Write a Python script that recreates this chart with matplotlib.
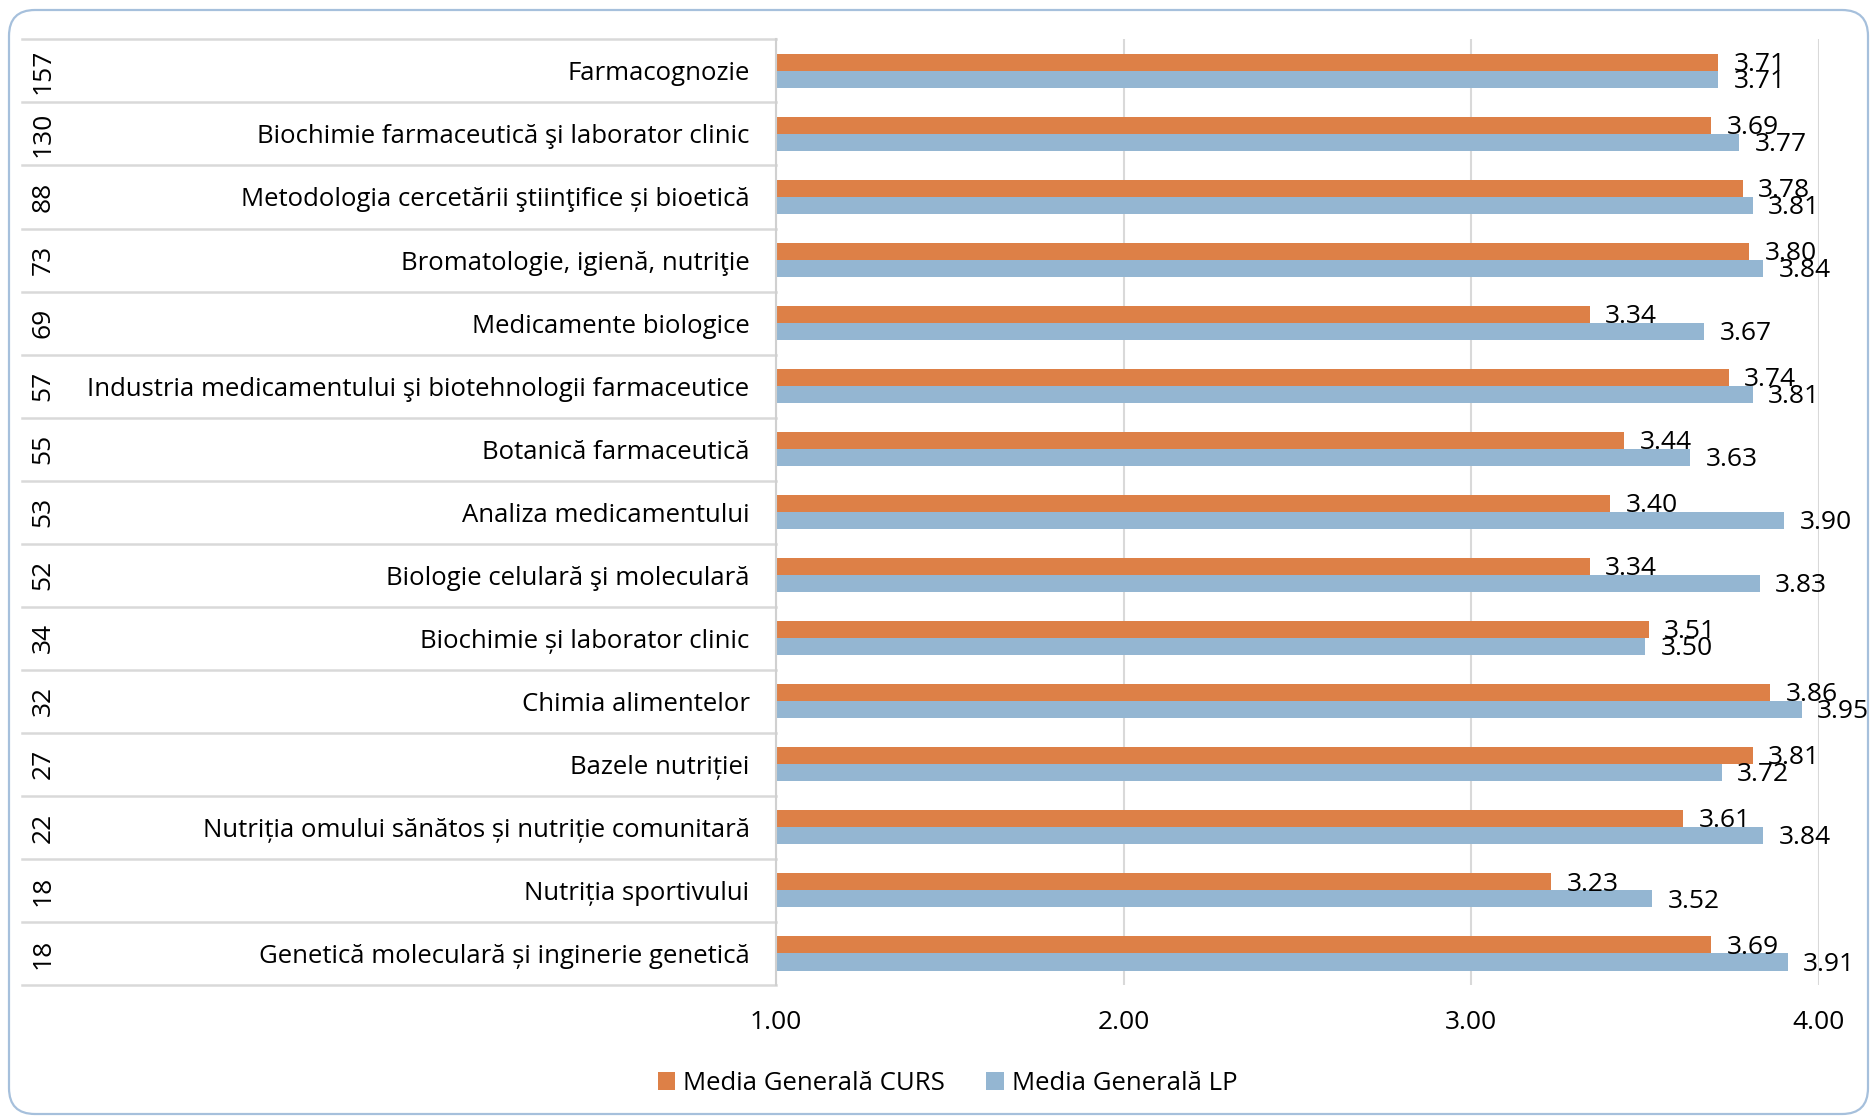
import matplotlib
matplotlib.use('Agg')
import matplotlib.pyplot as plt
from matplotlib import font_manager
from matplotlib.patches import FancyBboxPatch
import matplotlib.transforms as mtransforms
import numpy as np

counts = [157, 130, 88, 73, 69, 57, 55, 53, 52, 34, 32, 27, 22, 18, 18]
categories = [
    "Farmacognozie",
    "Biochimie farmaceutică şi laborator clinic",
    "Metodologia cercetării ştiinţifice și bioetică",
    "Bromatologie, igienă, nutriţie",
    "Medicamente biologice",
    "Industria medicamentului şi biotehnologii farmaceutice",
    "Botanică farmaceutică",
    "Analiza medicamentului",
    "Biologie celulară şi moleculară",
    "Biochimie și laborator clinic",
    "Chimia alimentelor",
    "Bazele nutriției",
    "Nutriția omului sănătos și nutriție comunitară",
    "Nutriția sportivului",
    "Genetică moleculară și inginerie genetică",
]
curs = [3.71, 3.69, 3.78, 3.80, 3.34, 3.74, 3.44, 3.40, 3.34, 3.51, 3.86, 3.81, 3.61, 3.23, 3.69]
lp = [3.71, 3.77, 3.81, 3.84, 3.67, 3.81, 3.63, 3.90, 3.83, 3.50, 3.95, 3.72, 3.84, 3.52, 3.91]
xticks = [1.0, 2.0, 3.0, 4.0]
series_names = ["Media Generală CURS", "Media Generală LP"]

avail = {f.name for f in font_manager.fontManager.ttflist}
font = next(f for f in ['Open Sans', 'Lato', 'Noto Sans', 'DejaVu Sans'] if f in avail)
plt.rcParams['font.family'] = [font, 'DejaVu Sans']
FS = 18.5
FSN = 19

W, H = 1870, 1119
fig = plt.figure(figsize=(W / 100, H / 100), dpi=100)
ax_l, ax_r, ax_t, ax_b = 776, 1819, 39.4, 985
ax = fig.add_axes([ax_l / W, 1 - ax_b / H, (ax_r - ax_l) / W, (ax_b - ax_t) / H])

orange = '#DD8047'
blue = '#94B6D2'
grid_c = '#D9D9D9'

y = np.arange(len(categories))
h = 0.27
b1 = ax.barh(y - h / 2, curs, height=h, color=orange, label=series_names[0])
b2 = ax.barh(y + h / 2, lp, height=h, color=blue, label=series_names[1])
for yy, v in zip(y - h / 2, curs):
    ax.annotate(f"{v:.2f}", xy=(v, yy), xytext=(11, -1.5), textcoords='offset points',
                ha='left', va='center', fontsize=FSN, color='black')
for yy, v in zip(y + h / 2, lp):
    ax.annotate(f"{v:.2f}", xy=(v, yy), xytext=(11, -1.5), textcoords='offset points',
                ha='left', va='center', fontsize=FSN, color='black')

ax.set_xlim(1, 4)
ax.set_ylim(len(categories) - 0.5, -0.5)
ax.set_xticks(xticks)
ax.set_xticklabels([f"{v:.2f}" for v in xticks], fontsize=FSN)
ax.set_yticks(y)
ax.set_yticklabels(categories, fontsize=FS)
ax.tick_params(axis='x', length=0, pad=18)
ax.tick_params(axis='y', length=0, pad=19)
ax.xaxis.grid(True, color=grid_c, lw=1.5)
ax.set_axisbelow(True)
for s in ['top', 'right', 'bottom']:
    ax.spines[s].set_visible(False)
ax.spines['left'].set_color('#D0D0D0')
ax.spines['left'].set_linewidth(1.5)

blend = mtransforms.blended_transform_factory(fig.transFigure, ax.transData)
for yy in np.arange(-0.5, len(categories), 1.0):
    ax.plot([21.5 / W, ax_l / W], [yy, yy], transform=blend, color=grid_c,
            lw=1.8, clip_on=False)
for i, c in enumerate(counts):
    ax.text(43 / W, i, str(c), transform=blend, rotation=90, ha='center',
            va='center', fontsize=FSN, color='black')

fig.legend(handles=[b1, b2], labels=series_names, loc='center',
           bbox_to_anchor=(947.5 / W, 1 - 1083 / H), ncol=2, frameon=False,
           handlelength=0.7, handleheight=0.7, handletextpad=0.3,
           columnspacing=1.6, fontsize=FS)

border = FancyBboxPatch((9, H - 1114), 1868 - 9, 1114 - 10,
                        boxstyle='round,pad=0,rounding_size=26',
                        transform=mtransforms.IdentityTransform(),
                        fill=False, ec='#A6C0DC', lw=1.6)
fig.add_artist(border)

fig.savefig('out.png', dpi=100)
